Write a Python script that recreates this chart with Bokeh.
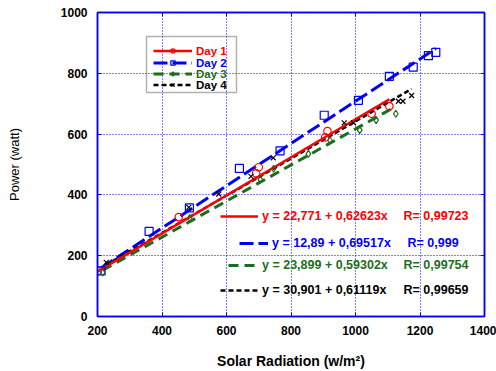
from bokeh.plotting import figure
from bokeh.models import (Legend, LegendItem, Label, BoxAnnotation, LinearAxis,
                          SingleIntervalTicker, Range1d, CustomJSTickFormatter)
from bokeh.embed import file_html
from bokeh.resources import INLINE

# ---- measured data: solar radiation (W/m2) vs. power output (W) ----
days = ["Day 1", "Day 2", "Day 3", "Day 4"]

day1_x = [201, 452, 692, 700, 906, 913, 1050, 1105]
day1_y = [150, 327, 471, 491, 589, 610, 667, 692]

day2_x = [211, 360, 485, 640, 766, 903, 1009, 1105, 1179, 1226, 1249]
day2_y = [150, 280, 357, 487, 545, 662, 711, 790, 820, 858, 869]

day3_x = [216, 486, 705, 746, 854, 921, 1013, 1064, 1125]
day3_y = [145, 324, 450, 486, 535, 579, 613, 646, 667]

day4_x = [227, 483, 576, 676, 745, 965, 994, 1133, 1147, 1174]
day4_y = [178, 359, 403, 461, 522, 637, 637, 708, 708, 727]

# linear fits y = a + b*x and correlation coefficients
intercepts = [22.771, 12.89, 23.899, 30.901]
slopes = [0.62623, 0.69517, 0.59302, 0.61119]
r_values = [0.99723, 0.999, 0.99754, 0.99659]

x_ticks_interval = 200
y_ticks_interval = 200

# ---- styling ----
FONT = "Liberation Sans"
colors = ["#ff0000", "#0000ff", "#1b6e1b", "#000000"]
markers = ["circle", "square", "diamond", "x"]
marker_sizes = [7.5, 8, 7, 7]
dashes = ["solid", "14 5", "10 6", "5 3"]
line_widths = [2.5, 3, 3, 2.5]
FL, FB = 97, 317  # frame left and bottom edge on the page


def sx(px):
    return px - FL


def sy(py):
    return FB - py


p = figure(width=496, height=371,
           x_range=Range1d(200, 1400), y_range=Range1d(0, 1000),
           output_backend="svg", toolbar_location=None,
           min_border_left=97, min_border_right=12,
           min_border_top=12, min_border_bottom=54)
p.background_fill_color = "white"
p.border_fill_color = "white"
p.outline_line_color = "#0000ff"
p.outline_line_width = 1.5

xt = SingleIntervalTicker(interval=x_ticks_interval, num_minor_ticks=0)
yt = SingleIntervalTicker(interval=y_ticks_interval, num_minor_ticks=0)

for ax, tk in ((p.xaxis[0], xt), (p.yaxis[0], yt)):
    ax.ticker = tk
    ax.axis_line_color = "#0000ff"
    ax.axis_line_width = 1.5
    ax.major_tick_line_color = "#0000ff"
    ax.major_tick_in = 4
    ax.major_tick_out = 0
    ax.minor_tick_line_color = None
    ax.major_label_text_font = FONT
    ax.major_label_text_font_style = "bold"
    ax.major_label_text_font_size = "12px"
    ax.major_label_text_color = "black"
    ax.axis_label_text_font = FONT
    ax.axis_label_text_color = "black"

p.xaxis.major_label_standoff = 9
p.xaxis.axis_label = "Solar Radiation (w/m\u00b2)"
p.xaxis.axis_label_text_font_size = "14px"
p.xaxis.axis_label_text_font_style = "bold"
p.xaxis.axis_label_standoff = 15

p.yaxis.major_label_standoff = 10
p.yaxis.axis_label = "Power (watt)"
p.yaxis.axis_label_text_font_size = "13px"
p.yaxis.axis_label_text_font_style = "normal"
p.yaxis.axis_label_standoff = 36

# mirrored tick marks (no labels) on the top and right edges
blank = CustomJSTickFormatter(code="return ''")
for place, tk in (("above", xt), ("right", yt)):
    ax = LinearAxis(ticker=tk, formatter=blank,
                    axis_line_color="#0000ff", axis_line_width=1.5,
                    major_tick_line_color="#0000ff", major_tick_in=4,
                    major_tick_out=0, minor_tick_line_color=None,
                    major_label_text_color=None, major_label_text_font_size="1px",
                    major_label_standoff=0)
    p.add_layout(ax, place)

for g, tk in ((p.xgrid[0], xt), (p.ygrid[0], yt)):
    g.ticker = tk
    g.grid_line_color = "#0000ff"
    g.grid_line_dash = "1 2"
    g.grid_line_width = 1

xs = [day1_x, day2_x, day3_x, day4_x]
ys = [day1_y, day2_y, day3_y, day4_y]

# regression lines over each day's measured range
line_renderers = [None] * 4
for i in (1, 2, 3, 0):
    x0, x1 = min(xs[i]), max(xs[i])
    a, b = intercepts[i], slopes[i]
    line_renderers[i] = p.line([x0, x1], [a + b * x0, a + b * x1],
                               line_color=colors[i], line_width=line_widths[i],
                               line_dash=dashes[i])

scatter_renderers = []
for i in range(4):
    r = p.scatter(xs[i], ys[i], marker=markers[i], size=marker_sizes[i],
                  line_color=colors[i], fill_color=None, line_width=1.2)
    scatter_renderers.append(r)

# series key: one legend per row so each label keeps its own colour
KEY_FS = 11.5
key_rows = [50, 62, 73, 84]
for i in range(4):
    lg = Legend(items=[LegendItem(label=days[i],
                                  renderers=[line_renderers[i], scatter_renderers[i]])],
                location=(sx(153), sy(key_rows[i] + 0.67 * KEY_FS)),
                glyph_width=39, glyph_height=11, label_height=11,
                label_standoff=4, padding=0, margin=0, spacing=0,
                border_line_alpha=0, background_fill_alpha=0,
                label_text_font=FONT, label_text_font_style="bold",
                label_text_font_size="%spx" % KEY_FS, label_text_color=colors[i])
    p.add_layout(lg)

p.add_layout(BoxAnnotation(left=sx(146), right=sx(236), top=sy(37), bottom=sy(93),
                           left_units="screen", right_units="screen",
                           top_units="screen", bottom_units="screen",
                           fill_alpha=0, line_color="black", line_width=1.5))

# fitted equations with their correlation coefficients
EQ_FS = 12.5
eq_rows = [216, 243, 265, 290]
eq_line_start = [220, 239, 228, 220]
eq_line_end = [258, 268, 258, 258]
r_start = [403, 407, 403, 403]
for i in range(4):
    text = ("y = %s + %sx" % (intercepts[i], slopes[i])).replace(".", ",")
    lg = Legend(items=[LegendItem(label=text, renderers=[line_renderers[i]])],
                location=(sx(eq_line_start[i]), sy(eq_rows[i] + 0.67 * EQ_FS)),
                glyph_width=eq_line_end[i] - eq_line_start[i], glyph_height=12,
                label_height=12, label_standoff=4, padding=0, margin=0, spacing=0,
                border_line_alpha=0, background_fill_alpha=0,
                label_text_font=FONT, label_text_font_style="bold",
                label_text_font_size="%spx" % EQ_FS, label_text_color=colors[i])
    p.add_layout(lg)
    p.add_layout(Label(x=sx(r_start[i]), y=sy(eq_rows[i]), x_units="screen",
                       y_units="screen", text=("R= %s" % r_values[i]).replace(".", ","),
                       text_font=FONT, text_font_style="bold",
                       text_font_size="%spx" % EQ_FS,
                       text_color=colors[i], text_baseline="middle", text_align="left"))

open("out.html", "w").write(file_html(p, INLINE))
